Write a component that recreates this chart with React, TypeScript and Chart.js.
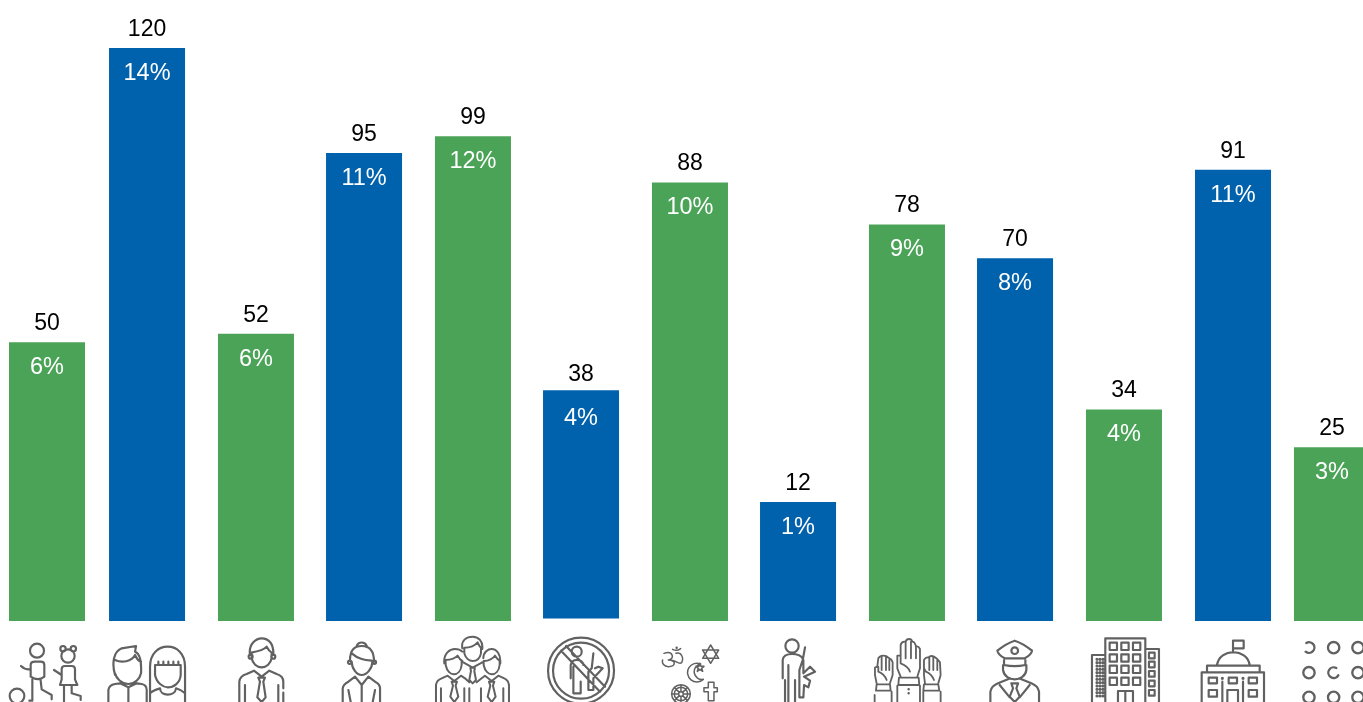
import React, { useEffect, useRef } from "react";
import { Chart, registerables } from "chart.js";

Chart.register(...registerables);

const categories = ["Children", "Youth", "Men", "Women", "Families", "Non-militants", "Religious groups", "Armed groups", "Voters", "Police", "Business", "Government", "Others"];
const counts = [50, 120, 52, 95, 99, 38, 88, 12, 78, 70, 34, 91, 25];
const shares = ["6%", "14%", "6%", "11%", "12%", "4%", "10%", "1%", "9%", "8%", "4%", "11%", "3%"];
const groups = ["g", "b", "g", "b", "g", "b", "g", "b", "g", "b", "g", "b", "g"];
// slot of each bar on the x axis: the first and last bars sit a little closer to their neighbours
const slots = [0, 0.922, 1.926, 2.922, 3.926, 4.922, 5.926, 6.922, 7.926, 8.922, 9.926, 10.931, 11.843];
// bars hang below the zero of the value axis; the sixth bar sits slightly higher than its value
const barFloor = -16.32;
const barShift = [0, 0, 0, 0, 0, 0.6, 0, 0, 0, 0, 0, 0, 0];

const GREEN = "#4BA358";
const BLUE = "#0061AC";
const ICON = "#616161";

const circle = (x: number, y: number, r: number) =>
  `M${x - r},${y} A${r},${r} 0 1,0 ${x + r},${y} A${r},${r} 0 1,0 ${x - r},${y} `;
const rect = (x: number, y: number, w: number, h: number) => `M${x},${y} h${w} v${h} h${-w} Z `;
const spokes = (x: number, y: number, a: number, b: number) => {
  let s = "";
  for (let i = 0; i < 8; i++) {
    const t = (i * Math.PI) / 4;
    s += `M${x + a * Math.cos(t)},${y + a * Math.sin(t)} L${x + b * Math.cos(t)},${y + b * Math.sin(t)} `;
  }
  return s;
};

type Icon = { ox: number; top: number; width: number; paths: string };
// Pictograms under the bars: paths are in 1/3 px units around each bar's centre
const icons: Icon[] = [
  {
    ox: -47, top: 610, width: 6.5,
    paths:
      circle(111, 122, 21) + circle(204, 138, 20) + circle(189, 116, 8) + circle(220, 116, 8) + circle(51, 258, 22) +
      "M63,168 Q75,180 92,178 M92,178 L92,165 Q92,155 105,155 L122,155 Q133,155 133,165 L133,200 Q115,215 92,200 L92,178 M97,208 L97,272 L88,272 M122,212 L125,238 L155,255 L155,268 " +
      "M162,180 L185,195 M185,195 L185,178 Q185,168 195,168 L215,168 Q225,168 225,178 L225,208 L232,225 L180,225 L185,208 L185,195 M192,228 L192,276 M215,228 L215,250 L242,258 L242,270",
  },
  {
    ox: -147, top: 610, width: 6.5,
    paths:
      "M345,195 C335,160 340,125 365,115 L408,108 L405,125 C420,130 425,150 423,190 M345,150 C365,160 395,155 405,135 C412,150 420,155 423,155 M345,190 C348,205 365,222 385,222 C405,222 420,205 423,190 " +
      "M325,276 L325,240 Q327,225 345,222 L360,220 L385,232 L410,220 L425,222 Q440,225 440,240 L440,276 M385,232 L385,276 " +
      "M450,276 L450,170 C450,130 475,110 503,110 C530,110 555,130 555,170 L555,276 M465,165 L542,165 M475,155 L475,165 M490,155 L490,165 M505,155 L505,165 M520,155 L520,165 M535,155 L535,165 " +
      "M465,165 L465,195 C470,220 490,232 503,232 C520,232 540,220 542,195 L542,165 M480,235 C480,260 525,260 528,235 M450,276 L450,250 Q460,240 480,235 M528,235 Q545,240 555,250",
  },
  {
    ox: -256, top: 610, width: 6.5,
    paths:
      "M750,135 C745,100 770,85 785,85 C805,85 822,100 820,135 M752,128 C770,125 790,122 800,110 C805,120 810,125 818,130 M755,130 L755,145 C758,160 770,172 785,172 C800,172 812,160 815,145 L815,130 " +
      circle(752, 140, 6) + circle(820, 140, 6) +
      "M718,276 L718,215 Q720,198 740,192 L762,182 L785,200 L808,182 L830,192 Q850,198 850,215 L850,235 M850,248 L850,276 M775,203 L795,203 L790,215 L797,262 L785,276 L772,262 L780,215 Z M735,225 L735,276 M835,225 L835,276",
  },
  {
    ox: -364, top: 610, width: 6.5,
    paths:
      "M1070,108 A16,16 0 0 1 1100,108 M1050,150 C1050,120 1065,108 1085,108 C1105,108 1122,120 1122,155 M1055,130 C1075,148 1095,150 1115,152 M1055,155 C1055,175 1070,195 1085,195 C1100,195 1117,175 1117,155 " +
      circle(1049, 157, 5) + circle(1123, 157, 5) +
      "M1028,276 L1028,235 Q1030,222 1045,215 L1065,200 L1085,225 L1105,200 L1125,215 Q1140,222 1140,235 L1140,276 M1085,225 L1085,276 M1045,240 L1052,276 M1125,240 L1118,276",
  },
  {
    ox: -48, top: 625, width: 6,
    paths:
      "M112,70 C108,45 125,35 143,35 C160,35 175,48 172,72 M118,70 L118,85 C122,100 133,108 143,108 C155,108 165,100 168,85 L168,70 M118,68 C135,68 150,62 158,52 C162,62 166,68 172,70 M115,112 L143,128 L172,112 M136,128 L150,128 L148,138 L153,165 L143,175 L133,165 L138,138 Z " +
      "M58,115 C55,85 75,72 90,72 C100,72 108,76 112,80 M62,105 C75,105 90,100 98,92 C102,100 105,105 112,108 M62,110 L62,120 C66,140 78,148 86,148 C98,148 108,138 110,120 L110,108 " +
      "M33,231 L33,180 Q35,165 50,160 L68,152 L88,168 L108,152 L120,160 L133,172 M80,170 L96,170 L92,182 L100,215 L88,231 L76,215 L84,182 Z M48,190 L48,231 M118,190 L118,231 M133,190 L133,231 " +
      "M175,100 C175,80 190,72 200,72 C215,72 228,88 226,115 M178,108 C190,108 205,100 210,92 C215,100 220,105 226,108 M176,108 L176,120 C180,140 192,148 200,148 C212,148 222,138 224,120 L224,108 " +
      "M155,172 L170,160 L180,152 L200,168 L220,152 L238,160 Q250,165 252,180 L252,231 M192,170 L208,170 L204,182 L212,215 L200,231 L188,215 L196,182 Z M168,190 L168,231 M235,190 L235,231",
  },
  {
    ox: -121, top: 610, width: 6.5,
    paths:
      circle(363, 182, 99) + circle(363, 182, 84) + circle(350, 125, 15) +
      "M318,108 L435,230 M303,122 L420,245 M332,205 L332,165 Q335,150 350,150 Q368,150 370,165 M340,170 L340,250 L362,250 L362,215 M400,130 L395,175 L385,185 L385,240 L400,240 L400,205 L428,175 L415,170 L405,175",
  },
  {
    ox: -230, top: 610, width: 4.5,
    paths:
      "M612,130 C640,120 645,148 625,150 C650,150 648,170 625,170 C612,170 605,160 608,150 M628,150 C650,150 655,165 665,158 C672,145 665,125 648,130 M638,118 Q650,125 662,116 " + circle(650, 113, 1.5) +
      "M752,105 L776,145 L728,145 Z M752,160 L728,120 L776,120 Z " +
      "M722,162 A28,28 0 1,0 730,208 A22,22 0 1,1 722,162 Z M720,160 L723,169 L732,169 L725,175 L728,184 L720,178 L712,184 L715,175 L708,169 L717,169 Z " +
      circle(663, 252, 28) + circle(663, 252, 20) + circle(663, 252, 7) + spokes(663, 252, 7, 28) +
      "M745,217 L762,217 L762,233 L772,233 L772,245 L762,245 L762,272 L745,272 L745,245 L732,245 L732,233 L745,233 Z",
  },
  {
    ox: -338, top: 610, width: 6.5,
    paths:
      circle(996, 108, 20) +
      "M968,205 L968,150 Q970,132 996,132 Q1020,132 1028,145 M985,165 L985,276 M975,210 L975,276 M1005,210 L1005,276 M1035,112 L1028,150 L1018,180 L1018,262 L1030,262 L1032,225 L1045,232 L1050,212 L1032,200 L1065,185 L1050,170 L1030,190 L1030,150",
  },
  {
    ox: -47, top: 625, width: 5.5,
    paths:
      "M122,155 L112,130 L112,92 L122,92 L122,60 Q125,48 137,50 Q140,42 147,42 Q155,42 157,50 Q165,50 168,65 Q175,62 180,72 L180,130 L172,155 M137,50 L137,100 M153,50 L153,100 M168,65 L168,100 M122,92 L122,115 C135,120 145,125 150,140 M117,158 L176,158 L178,180 L115,180 Z M112,182 L112,231 M180,182 L180,231 " +
      circle(146, 193, 1) + circle(146, 205, 1) +
      "M50,175 L45,150 L45,128 L52,125 L55,100 Q60,92 70,92 Q80,92 85,98 Q95,102 98,112 L98,150 L90,175 M65,95 L65,135 M78,95 L78,135 M88,105 L88,135 M55,125 L55,140 C68,145 75,152 80,165 M50,178 L90,178 L92,197 L48,197 Z M44,210 L44,231 M95,200 L95,231 " +
      "M195,175 L192,150 L192,105 Q198,95 205,98 Q212,90 222,95 Q232,100 240,112 L242,150 L235,175 M208,97 L208,135 M220,97 L220,135 M232,105 L232,135 M192,130 L198,140 C210,145 218,155 222,165 M192,178 L235,178 L238,197 L190,197 Z M190,200 L190,231 M242,200 L242,231",
  },
  {
    ox: -112, top: 610, width: 6.5,
    paths:
      "M283,122 Q310,100 335,92 Q360,100 387,122 Q385,135 365,145 L305,145 Q285,135 283,122 Z " + circle(335, 122, 10) +
      "M303,150 L303,165 Q335,172 367,165 L367,150 M300,165 L300,180 C303,200 320,208 335,208 C350,208 367,200 370,180 L370,165 " +
      "M262,276 L262,245 Q265,228 285,220 L322,205 M348,205 L385,220 Q405,228 408,245 L408,276 M290,225 L320,262 M380,225 L350,262 M325,220 L345,220 L340,235 L350,260 L335,276 L320,260 L330,235 Z",
  },
  {
    ox: -221, top: 610, width: 6.5,
    paths:
      "M607,276 L607,85 L727,85 L727,276 M607,135 L567,135 L567,276 M727,117 L768,117 L768,276 M645,276 L645,243 L690,243 L690,276 M667,243 L667,276 " +
      [98, 133, 167, 203].map((y) => [620, 655, 690].map((x) => rect(x, y, 22, 22)).join("")).join("") +
      [128, 155, 183, 212, 240].map((y) => rect(738, y, 17, 17)).join("") +
      [148, 158, 168, 178, 188, 198, 208, 218, 228, 238, 248, 258].map((y) => [582, 591, 600].map((x) => circle(x, y, 1.5)).join("")).join(""),
  },
  {
    ox: -330, top: 610, width: 6.5,
    paths:
      "M990,127 L990,92 L1022,92 L1022,115 L990,115 M942,165 C950,114 1032,114 1040,165 M912,185 L912,167 L1070,167 L1070,185 M896,276 L896,187 L1083,187 L1083,276 M973,276 L973,240 L1005,240 L1005,276 M958,215 L958,276 M1020,215 L1020,276 " +
      rect(917, 203, 25, 17) + rect(977, 203, 25, 17) + rect(1037, 203, 25, 17) + rect(917, 240, 25, 20) + rect(1037, 240, 25, 20) +
      circle(958, 205, 1.5) + circle(1020, 205, 1.5),
  },
  {
    ox: -429, top: 610, width: 7,
    paths:
      "M1210,99 A16,16 0 1,1 1208,125 " + circle(1292, 113, 17) + circle(1365, 113, 17) +
      circle(1218, 188, 17) + "M1300,174 A16,16 0 1,0 1306,196 " + circle(1365, 188, 17) +
      circle(1218, 262, 17) + circle(1292, 262, 17) + circle(1365, 262, 17),
  },
];

const labelsAndIcons = {
  id: "labelsAndIcons",
  afterDatasetsDraw(chart: any) {
    const { ctx, scales } = chart;
    ctx.save();
    ctx.textAlign = "center";
    ctx.textBaseline = "alphabetic";
    counts.forEach((value, i) => {
      const x = scales.x.getPixelForValue(slots[i]);
      const y = scales.y.getPixelForValue(value);
      ctx.font = "23px 'Liberation Sans'";
      ctx.fillStyle = "#000000";
      ctx.fillText(String(value), x, y - 12);
      ctx.font = "23.5px 'Liberation Sans'";
      ctx.fillStyle = "#FFFFFF";
      ctx.fillText(shares[i], x, y + 32);

      const icon = icons[i];
      ctx.save();
      ctx.translate(x + icon.ox, icon.top);
      ctx.scale(1 / 3, 1 / 3);
      ctx.strokeStyle = ICON;
      ctx.lineWidth = icon.width;
      ctx.lineJoin = "round";
      ctx.lineCap = "round";
      ctx.stroke(new Path2D(icon.paths));
      ctx.restore();
    });
    ctx.restore();
  },
};

export default function App() {
  const ref = useRef<HTMLCanvasElement>(null);
  useEffect(() => {
    const chart = new Chart(ref.current as HTMLCanvasElement, {
      type: "bar",
      data: {
        labels: categories,
        datasets: [
          {
            label: "Count",
            data: counts.map((v, i) => ({ x: slots[i], y: [barFloor + barShift[i], v + barShift[i]] })) as any,
            backgroundColor: groups.map((g) => (g === "g" ? GREEN : BLUE)),
            borderWidth: 0,
            inflateAmount: 0,
            barThickness: 76,
          },
        ],
      },
      options: {
        animation: false,
        responsive: false,
        layout: { padding: 0 },
        plugins: { legend: { display: false }, tooltip: { enabled: false } },
        scales: {
          x: { type: "linear", display: false, min: -0.43318, max: 12.12903, offset: false },
          y: { type: "linear", display: false, min: -35.58, max: 131.4 },
        },
      },
      plugins: [labelsAndIcons],
    });
    return () => chart.destroy();
  }, []);
  return (
    <div style={{ position: "fixed", left: 0, top: 0, width: 1363, height: 702, overflow: "hidden", background: "#fff" }}>
      <canvas ref={ref} width={1363} height={702} style={{ display: "block" }} />
    </div>
  );
}
